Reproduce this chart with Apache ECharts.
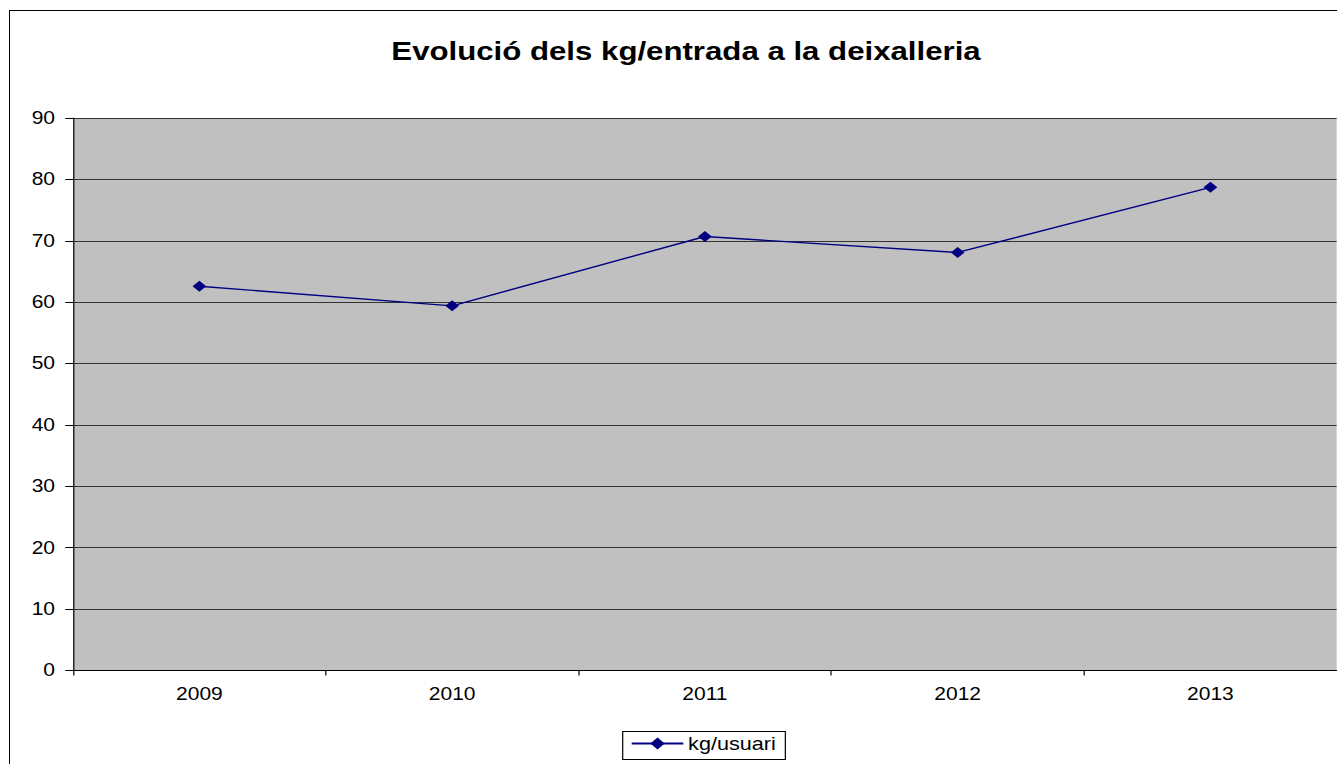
<!DOCTYPE html>
<html><head><meta charset="utf-8">
<script src="https://cdn.jsdelivr.net/npm/echarts@6/dist/echarts.min.js"></script>
<style>
html,body{margin:0;padding:0;background:#fff;overflow:hidden;}
#frame{position:absolute;left:9px;top:10px;width:1340px;height:770px;border:1px solid #000;box-sizing:border-box;background:#fff;}
#c{position:absolute;left:0;top:0;width:1114.17px;height:764px;transform:scaleX(1.2);transform-origin:0 0;}
</style></head>
<body>
<div id="frame"></div>
<div id="c"></div>
<script>
const categories = ['2009','2010','2011','2012','2013'];
const kgUsuari = [62.6, 59.4, 70.7, 68.1, 78.7];
const seriesName = 'kg/usuari';
const titleText = 'Evolució dels kg/entrada a la deixalleria';
const yTicks = {min:0, max:90, step:10};

const S = 1.2; // horizontal stretch of the original picture
const chart = echarts.init(document.getElementById('c'), null, {renderer:'svg'});
chart.setOption({
  animation:false,
  title:{text:titleText,left:680/S,textAlign:'center',top:33,
    textStyle:{fontFamily:'Liberation Sans, Arial',fontSize:26,fontWeight:'bold',color:'#000'}},
  legend:{data:[seriesName],left:622.7/S,top:731.5,padding:[3,8,7,6.5],
    borderColor:'#000',borderWidth:1,itemWidth:43,itemHeight:15,itemGap:5.3,
    textStyle:{fontFamily:'Liberation Sans, Arial',fontSize:18,color:'#000',padding:[0,0,0,-1]}},
  grid:{left:73/S,top:118,width:1268/S,height:552.5,show:true,backgroundColor:'#c0c0c0',borderWidth:0},
  xAxis:{type:'category',data:categories,boundaryGap:true,
    axisLine:{lineStyle:{color:'#000',width:1}},
    axisTick:{show:true,length:5,lineStyle:{color:'#000'}},
    axisLabel:{fontFamily:'Liberation Sans, Arial',fontSize:17.5,color:'#000',margin:15},
    splitLine:{show:false}},
  yAxis:{type:'value',min:yTicks.min,max:yTicks.max,interval:yTicks.step,
    axisLine:{show:true,lineStyle:{color:'#000'}},
    axisTick:{show:true,length:6.5,lineStyle:{color:'#000'}},
    axisLabel:{fontFamily:'Liberation Sans, Arial',fontSize:17.5,color:'#000',margin:15},
    splitLine:{show:true,lineStyle:{color:'#333',width:1}}},
  series:[{name:seriesName,type:'line',data:kgUsuari,symbol:'diamond',symbolSize:[11.5,11],
    lineStyle:{color:'#000080',width:1.4},itemStyle:{color:'#000080'}}]
});
</script>
</body></html>
